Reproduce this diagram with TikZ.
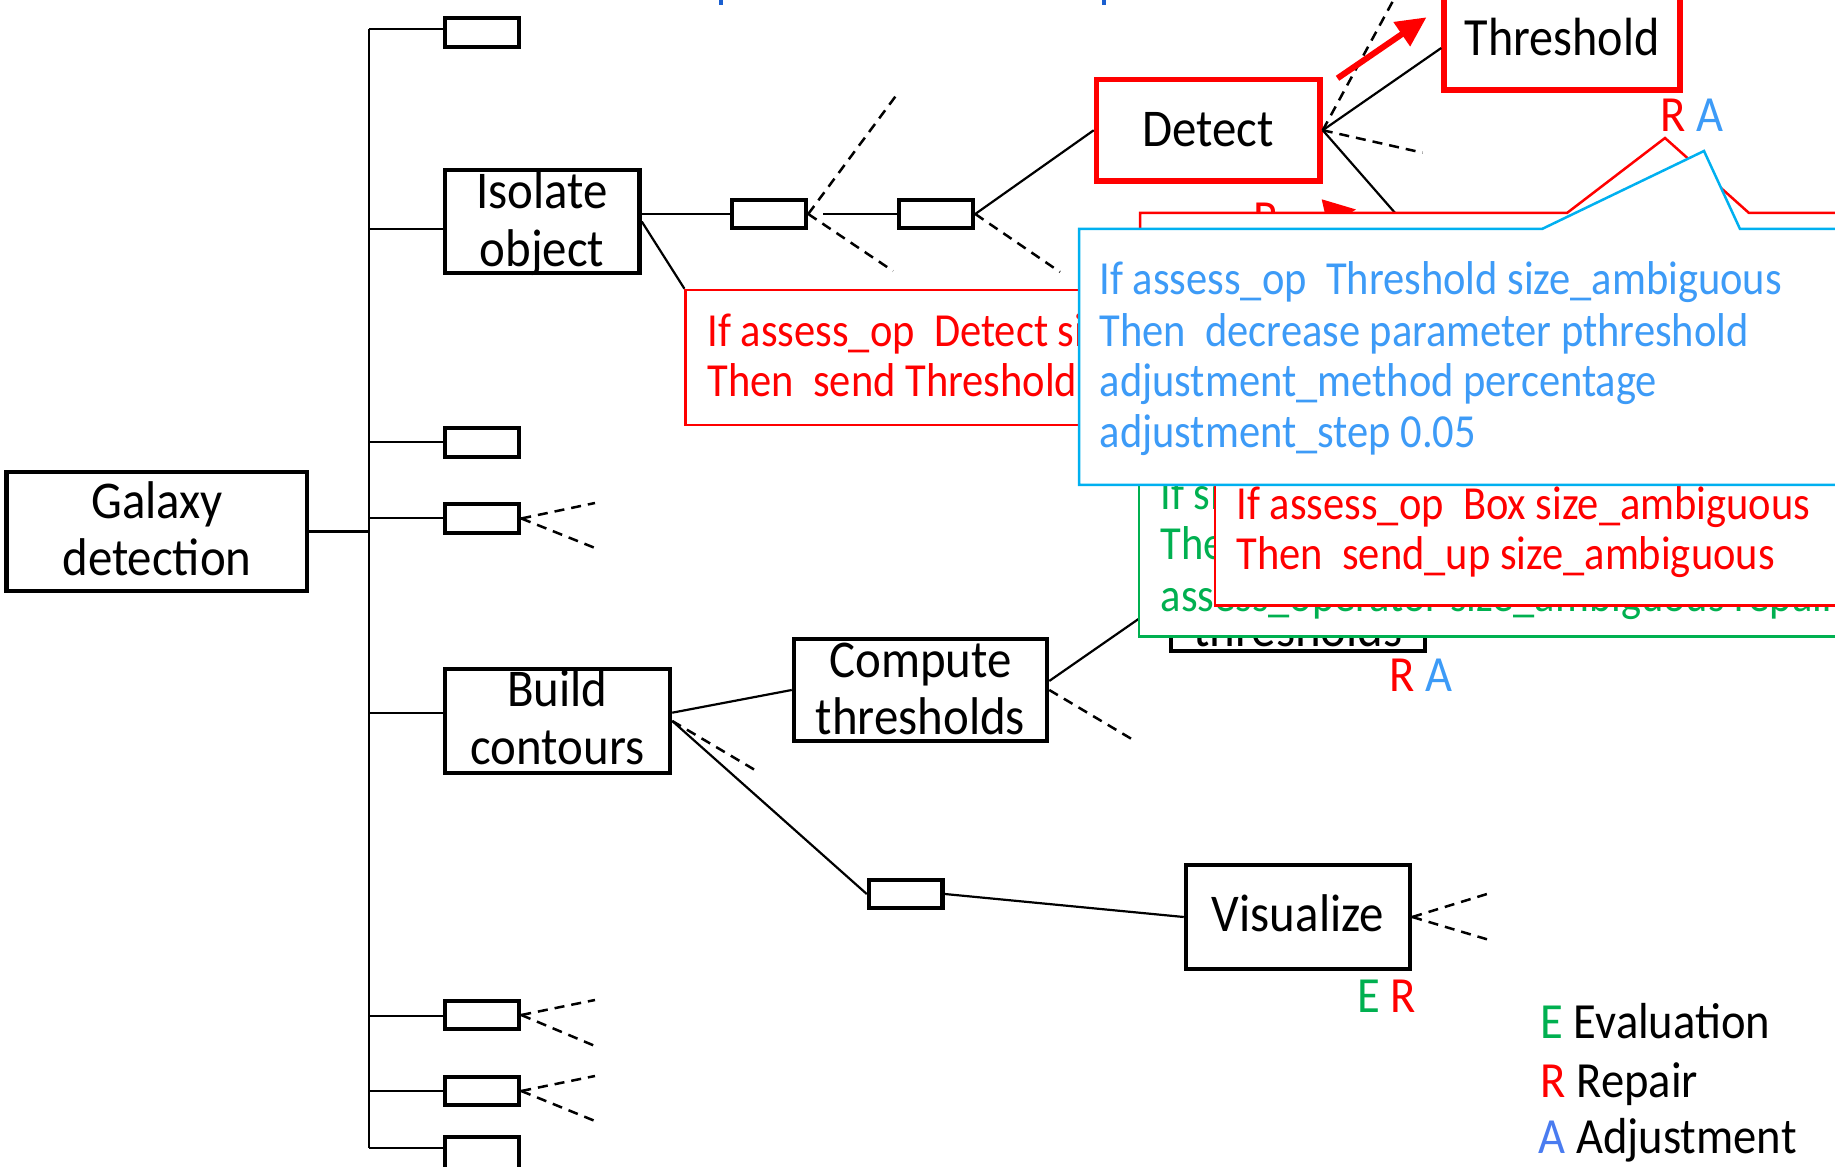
\documentclass[tikz,border=0pt]{standalone}
\usepackage{fontspec}
\setmainfont{Carlito}[FakeStretch=0.92]
\newfontfamily\narrowfont{Carlito}[FakeStretch=0.895]
\usetikzlibrary{arrows.meta,fit,calc}

\definecolor{cred}{HTML}{FF0000}
\definecolor{cgreen}{HTML}{00B050}
\definecolor{cblueline}{HTML}{00B0F0}
\definecolor{cbluetext}{HTML}{3D9BF7}
\definecolor{clegblue}{HTML}{4A7CF0}
\definecolor{ctitle}{HTML}{1A5FD0}

\begin{document}
\begin{tikzpicture}[x=0.01cm, y=-0.01cm,
  box/.style={draw=black, line width=0.045cm, fill=white, inner sep=0pt},
  redbox/.style={draw=cred, line width=0.055cm, fill=white, inner sep=0pt},
  conn/.style={draw=black, line width=0.022cm},
  dashconn/.style={draw=black, line width=0.025cm, dash pattern=on 0.1cm off 0.07cm},
  callred/.style={draw=cred, line width=0.025cm, fill=white, inner sep=0pt},
  callgreen/.style={draw=cgreen, line width=0.025cm, fill=white, inner sep=0pt},
  callblue/.style={draw=cblueline, line width=0.025cm, fill=white},
  nodetext/.style={inner sep=0pt, anchor=base, font=\fontsize{15.1pt}{16.5pt}\selectfont},
  calltext/.style={inner sep=0pt, anchor=base west, font=\narrowfont\fontsize{13.5pt}{14.5pt}\selectfont},
  tag/.style={inner sep=0pt, anchor=base west, font=\fontsize{14.4pt}{16pt}\selectfont},
]
\useasboundingbox (0,0) rectangle (1835,1167);
\clip (0,0) rectangle (1835,1167);

% ---------- main tree ----------
\coordinate (j1) at (369,29.3);
\coordinate (j2) at (369,229);
\coordinate (j3) at (369,442);
\coordinate (j4) at (369,518);
\coordinate (jg) at (369,531.5);
\coordinate (j5) at (369,712.7);
\coordinate (j6) at (369,1015.7);
\coordinate (j7) at (369,1091);
\coordinate (j8) at (369,1148);
\draw[conn] (j1) -- (j8);

\node[box, fit={(6.5,472)(307,591)}] (gal) {};
\node[box, fit={(445,18)(519,47)}] (s1) {};
\node[box, fit={(445,170)(639.5,273)}] (iso) {};
\node[box, fit={(445,428)(519,457)}] (s3) {};
\node[box, fit={(445,504)(519,533)}] (s4) {};
\node[box, fit={(445,669)(670,773)}] (bc) {};
\node[box, fit={(445,1001)(519,1029)}] (s6) {};
\node[box, fit={(445,1077)(519,1105)}] (s7) {};
\node[box, fit={(445,1137)(519,1170)}] (s8) {};

\draw[conn] (gal.east) -- (jg);
\foreach \j/\b in {j1/s1, j2/iso, j3/s3, j4/s4, j5/bc, j6/s6, j7/s7, j8/s8}
  \draw[conn] (\j) -- (\j -| \b.west);

\node[nodetext] (galt1) at (157,518.3) {Galaxy};
\node[nodetext] (galt2) at (157,575.7) {detection};
\node[nodetext] (isot1) at (542,208.3) {Isolate};
\node[nodetext] (isot2) at (542,266.7) {object};
\node[nodetext] (bct1) at (557.5,706.7) {Build};
\node[nodetext] (bct2) at (557.5,765) {contours};

% open branches of the small boxes
\coordinate (d4a) at (595,503);  \coordinate (d4b) at (595,548);
\coordinate (d6a) at (595,1000); \coordinate (d6b) at (595,1046);
\coordinate (d7a) at (595,1076); \coordinate (d7b) at (595,1121);
\foreach \b/\p in {s4/d4a, s4/d4b, s6/d6a, s6/d6b, s7/d7a, s7/d7b}
  \draw[dashconn] (\b.east) -- (\p);

% ---------- isolate object branch ----------
\node[box, fit={(732,200)(806,228)}] (sA) {};
\node[box, fit={(899,200)(973,228)}] (sB) {};
\draw[conn] (iso.east |- sA.west) -- (sA.west);
\draw[conn] ([xshift=0.15cm]sA.east) -- (sB.west);
\coordinate (dA1) at (898,93);
\coordinate (dA2) at (893,271);
\coordinate (dB1) at (1060,272);
\draw[dashconn] (sA.east) -- (dA1);
\draw[dashconn] (sA.east) -- (dA2);
\draw[dashconn] (sB.east) -- (dB1);

\node[redbox, fit={(1096.5,79.5)(1320,181)}] (det) {};
\node[nodetext] (dett) at (1208,146.7) {Detect};
\draw[conn] (sB.east) -- (det.west);

\node[redbox, fit={(1444,-30)(1680,90)}] (thr) {};
\node[nodetext, font=\narrowfont\fontsize{15.3pt}{17pt}\selectfont] (thrt) at (1562,56) {Threshold};
\draw[conn] (det.east) -- ([yshift=-0.18cm]thr.west);

\coordinate (dD1) at (1400,-12);
\coordinate (dD2) at (1422.5,152.7);
\coordinate (dD3) at (1410,230);
\draw[dashconn] (det.east) -- (dD1);
\draw[dashconn] (det.east) -- (dD2);
\draw[conn] (det.east) -- (dD3);

% red message arrow towards Threshold
\coordinate (ra1) at (1337.5,78.3);
\coordinate (ra2) at (1426.5,17.3);
\draw[cred, line width=0.06cm, -{Triangle[length=0.3cm,width=0.28cm]}] (ra1) -- (ra2);

% arrow tip and tag below Detect
\fill[cred] (1321.7,199.3) -- (1356,209.5) -- (1328,227) -- cycle;
\node[tag, text=cred] (rdet) at (1253,236) {R};

% ---------- build contours branch ----------
\node[box, fit={(1171,545)(1425,651)}] (hb) {};
\node[nodetext] (hbt) at (1298,647) {thresholds};

\node[box, fit={(794,639)(1047,741)}] (ct) {};
\node[nodetext] (ctt1) at (920.5,678) {Compute};
\node[nodetext] (ctt2) at (920.5,735) {thresholds};
\draw[conn] ([yshift=0.083cm]bc.east) -- (ct.west);
\draw[conn] ([yshift=0.09cm]ct.east) -- (hb.west);
\coordinate (dC1) at (1135,741);
\draw[dashconn] (ct.east) -- (dC1);
\coordinate (dbc) at (760,773);
\draw[dashconn] (bc.east) -- (dbc);

\node[box, fit={(869,880)(942.5,908)}] (sC) {};
\draw[conn] (bc.east) -- (sC.west);
\node[box, fit={(1186,865)(1410,969)}] (vis) {};
\node[nodetext] (vist) at (1298,931.7) {Visualize};
\draw[conn] (sC.east) -- (vis.west);
\coordinate (dV1) at (1487,894);
\coordinate (dV2) at (1487,939.3);
\draw[dashconn] (vis.east) -- (dV1);
\draw[dashconn] (vis.east) -- (dV2);

% ---------- rule callouts ----------
\node[callred, fit={(685.7,290)(1300,425)}] (r1) {};
\draw[conn] (iso.east) -- (r1.north west);
\node[calltext, text=cred] (r1a) at (707,346.7) {If assess\_op\ \ Detect size\_ambiguous};
\node[calltext, text=cred] (r1b) at (707,396.7) {Then\ \ send Threshold};

\draw[callred] (1140,480) -- (1140,213) -- (1567,213) -- (1665,138) -- (1749,213)
  -- (1900,213) -- (1900,480) -- cycle;

\node[callgreen, fit={(1139,470)(1900,636.7)}] (g1) {};
\node[calltext, text=cgreen] (g1a) at (1160,510) {If size\_ambiguous};
\node[calltext, text=cgreen] (g1b) at (1160,560) {Then};
\node[calltext, text=cgreen] (g1c) at (1160,611.7) {assess\_operator size\_ambiguous repair};

\node[callred, fit={(1215,478)(1900,605.7)}] (r3) {};
\node[calltext, text=cred] (r3a) at (1236,520) {If assess\_op\ \ Box size\_ambiguous};
\node[calltext, text=cred] (r3b) at (1236,570) {Then\ \ send\_up size\_ambiguous};

\draw[callblue] (1079,485) -- (1079,229) -- (1542,229) -- (1704,151) -- (1740,229)
  -- (1900,229) -- (1900,485) -- cycle;
\node[calltext, text=cbluetext] (b1) at (1099,295) {If assess\_op\ \ Threshold size\_ambiguous};
\node[calltext, text=cbluetext] (b2) at (1099,346.7) {Then\ \ decrease parameter pthreshold};
\node[calltext, text=cbluetext] (b3) at (1099,396.7) {adjustment\_method percentage};
\node[calltext, text=cbluetext] (b4) at (1099,448) {adjustment\_step 0.05};

% ---------- tags ----------
\node[tag] (tagthr) at (1660,132) {\textcolor{cred}{R} \textcolor{cbluetext}{A}};
\node[tag] (taghb) at (1389,692) {\textcolor{cred}{R} \textcolor{cbluetext}{A}};
\node[tag] (tagvis) at (1357,1013) {\textcolor{cgreen}{E} \textcolor{cred}{R}};

% ---------- legend ----------
\node[tag] (leg1) at (1540,1039) {\textcolor{cgreen}{E} Evaluation};
\node[tag] (leg2) at (1540,1097) {\textcolor{cred}{R} Repair};
\node[tag] (leg3) at (1538,1154) {\textcolor{clegblue}{A} Adjustment};

% descenders of the heading above the frame
\draw[ctitle, line width=0.04cm] (720.5,-3) -- (720.5,5);
\draw[ctitle, line width=0.04cm] (1104,-3) -- (1104,5);
\end{tikzpicture}
\end{document}
